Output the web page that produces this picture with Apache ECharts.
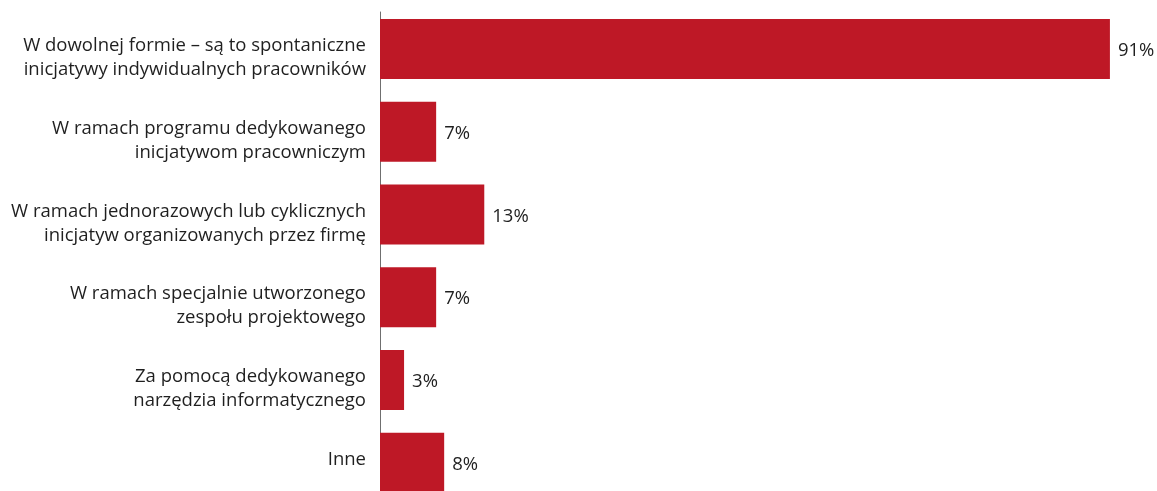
<!DOCTYPE html>
<html>
<head>
<meta charset="utf-8">
<script src="https://cdn.jsdelivr.net/npm/echarts@6/dist/echarts.min.js"></script>
<style>
  html, body { margin: 0; padding: 0; background: #ffffff; overflow: hidden; }
  /* the last bar runs past the lower edge of the visible page */
  #chart { width: 1157px; height: 513px; }
</style>
</head>
<body>
<div id="chart"></div>
<script>
// Forms in which employee initiatives are submitted (share of answers, %)
const categories = [
  'W dowolnej formie – są to spontaniczne\ninicjatywy indywidualnych pracowników',
  'W ramach programu dedykowanego\ninicjatywom pracowniczym',
  'W ramach jednorazowych lub cyklicznych\ninicjatyw organizowanych przez firmę',
  'W ramach specjalnie utworzonego\nzespołu projektowego',
  'Za pomocą dedykowanego\nnarzędzia informatycznego',
  'Inne'
];
const values = [91, 7, 13, 7, 3, 8];

const FONT = '"Open Sans", Lato, sans-serif';
const TEXT = '#1f1f1f';
const chart = echarts.init(document.getElementById('chart'), null, { renderer: 'canvas' });

const hiddenX = i => ({ gridIndex: i, type: 'value', min: 0, max: 95, show: false });

chart.setOption({
  animation: false,
  backgroundColor: '#ffffff',
  grid: [
    // bars
    { left: 380, top: 7.7, width: 762, bottom: 9, containLabel: false },
    // vertical axis line
    { left: 380, top: 12, width: 762, bottom: 0, containLabel: false },
    // category labels, set slightly lower than the bars
    { left: 380, top: 16.7, width: 762, bottom: 0, containLabel: false }
  ],
  xAxis: [hiddenX(0), hiddenX(1), hiddenX(2)],
  yAxis: [
    {
      gridIndex: 0,
      type: 'category',
      inverse: true,
      data: categories,
      axisLine: { show: false },
      axisTick: { show: false },
      axisLabel: { show: false }
    },
    {
      gridIndex: 1,
      type: 'category',
      inverse: true,
      data: categories,
      axisLine: { show: true, lineStyle: { color: '#6f6f6f', width: 1 } },
      axisTick: { show: false },
      axisLabel: { show: false }
    },
    {
      gridIndex: 2,
      type: 'category',
      inverse: true,
      data: categories,
      axisLine: { show: false },
      axisTick: { show: false },
      axisLabel: {
        margin: 14,
        align: 'right',
        color: TEXT,
        fontFamily: FONT,
        fontSize: 18.5,
        lineHeight: 24,
        // single-line labels keep an empty second line so they sit higher
        formatter: v => (v.indexOf('\n') < 0 ? v + '\n ' : v)
      }
    }
  ],
  series: [{
    type: 'bar',
    xAxisIndex: 0,
    yAxisIndex: 0,
    data: values,
    barWidth: 60,
    itemStyle: { color: '#be1826' },
    label: {
      show: true,
      position: 'right',
      distance: 8,
      offset: [0, 2],
      formatter: '{c}%',
      color: TEXT,
      fontFamily: FONT,
      fontSize: 18.5
    }
  }]
});
</script>
</body>
</html>
